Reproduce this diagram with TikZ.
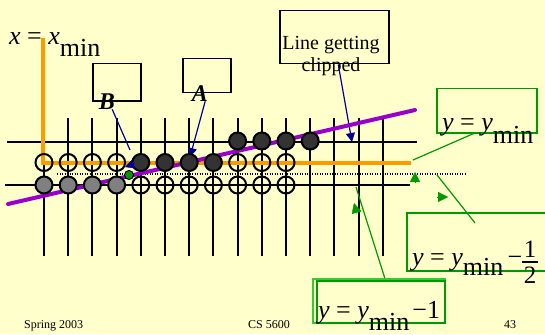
\documentclass[tikz,border=0pt]{standalone}
\usepackage{fontspec}
\setmainfont{Liberation Serif}
\usetikzlibrary{arrows.meta,positioning}
\definecolor{slideyellow}{RGB}{255,255,204}
\definecolor{clipblue}{RGB}{0,0,153}
\definecolor{edgeorange}{RGB}{255,153,0}
\definecolor{linepurple}{RGB}{153,0,204}
\definecolor{markgreen}{RGB}{0,153,0}
\definecolor{lightgreen}{RGB}{51,204,51}
\definecolor{pixdark}{RGB}{51,51,51}
\definecolor{pixgray}{RGB}{128,128,128}

\begin{document}
\begin{tikzpicture}[
    x=1pt,y=-1pt,
    gridline/.style={line width=2pt},
    pix/.style={circle,draw,line width=2pt,minimum size=17pt,inner sep=0pt},
    offpix/.style={pix},
    onpix/.style={pix,fill=pixdark},
    lowpix/.style={pix,fill=pixgray},
    labelbox/.style={draw,line width=1.5pt,inner sep=0pt,anchor=north west},
    gbox/.style={draw=markgreen,line width=1.5pt,inner sep=0pt,anchor=north west},
    eq/.style={font=\fontsize{26}{28}\selectfont,inner sep=0pt,anchor=base west},
    digit/.style={font=\fontsize{25}{27}\selectfont,inner sep=0pt,anchor=base},
    bpointer/.style={draw=clipblue,line width=1.2pt},
    gpointer/.style={draw=markgreen,line width=1.2pt},
    btip/.style={-{Triangle[length=9pt,width=9pt]},clipblue,line width=0.4pt},
    gtip/.style={-{Triangle[length=10pt,width=10pt]},markgreen,line width=0.4pt}
]
\useasboundingbox[fill=slideyellow] (0,0) rectangle (545,334);

% label boxes
\node[labelbox,minimum width=48pt,minimum height=37pt] (bbox) at (92,63) {};
\node[labelbox,minimum width=48pt,minimum height=34pt] (abox) at (182,58) {};
\node[labelbox,minimum width=109pt,minimum height=53pt] (clipbox) at (279,10) {};
\node[font=\fontsize{20}{22}\selectfont,align=center,inner sep=0pt,anchor=north] (cliptxt) at (331,36.3) {Line getting\\clipped};

% pointer that passes under the line
\coordinate (clipend) at (352,142);
\draw[bpointer,-{Triangle[length=9pt,width=9pt]}] ([xshift=4pt]clipbox.south) -- (clipend);

% pixel grid
\foreach \i in {0,...,14}
    \draw[gridline] ({44+24.2*\i},118) -- ({44+24.2*\i},256);
\coordinate (rowa) at (7,142);
\coordinate (rowb) at (5,185);
\draw[gridline] (rowa) -- (417,142);
\draw[gridline] (rowb) -- (410,185);
\draw[line width=2.4pt,dash pattern=on 1.4pt off 1.1pt] (57,174) -- (465,174);

% clip edges and the line
\draw[edgeorange,line width=4pt] (43,38) -- (43,163) -- (411,163);
\coordinate (lstart) at (8,204);
\coordinate (lend) at (415,110);
\draw[linepurple,line width=4pt,line cap=round] (lstart) -- (lend);

% B and A pointers
\node[font=\fontsize{24}{26}\selectfont\bfseries\itshape,inner sep=0pt,anchor=base] (btxt) at (107,109) {B};
\node[font=\fontsize{24}{26}\selectfont\bfseries\itshape,inner sep=0pt,anchor=base] (atxt) at (200,101) {A};
\coordinate (bend) at (130,150);
\draw[bpointer] ([xshift=-3pt]btxt.south east) -- (bend);
\coordinate (aend) at (190,157);
\draw[bpointer,-{Triangle[length=9pt,width=9pt]}] ([xshift=-3pt]atxt.south east) -- (aend);

% pixels
\foreach \i in {8,...,11}
    \node[onpix] (top\i) at ({44+24.2*\i},141) {};
\foreach \i in {0,...,3}
    \node[offpix] (mid\i) at ({44+24.2*\i},162.5) {};
\foreach \i in {4,...,7}
    \node[onpix] (mid\i) at ({44+24.2*\i},162.5) {};
\foreach \i in {8,...,10}
    \node[offpix] (mid\i) at ({44+24.2*\i},162.5) {};
\foreach \i in {0,...,3}
    \node[lowpix] (low\i) at ({44+24.2*\i},185) {};
\foreach \i in {4,...,10}
    \node[offpix] (low\i) at ({44+24.2*\i},185) {};
\node[circle,draw,fill=markgreen,line width=1pt,minimum size=9pt,inner sep=0pt] (hit) at (129,175) {};
\coordinate (btipbase) at (134,164);
\coordinate (btipend) at (125,167);
\draw[btip] (btipbase) -- (btipend);

% equations
\node[eq] (xmineq) at (9,45) {{\itshape x} = {\itshape x}\raisebox{-12pt}{min}};
\node[gbox,minimum width=100pt,minimum height=44pt] (yminbox) at (436,88) {};
\node[eq] (ymineq) at (442,130) {{\itshape y} = {\itshape y}\raisebox{-13pt}{min}};
\node[gbox,minimum width=154pt,minimum height=58pt] (halfbox) at (406,212) {};
\node[eq] (halfeq) at (412,265) {{\itshape y} = {\itshape y}\raisebox{-10pt}{min}\,−};
\node[digit] (halfnum) at (530,257) {1};
\node[digit] (halfden) at (530,283) {2};
\draw[line width=1.3pt] ([xshift=-8pt,yshift=-5pt]halfnum.base) -- ([xshift=8pt,yshift=-5pt]halfnum.base);
\node[draw=lightgreen,line width=1.5pt,inner sep=0pt,anchor=north west,minimum width=132pt,minimum height=44pt] (oneouter) at (312,278) {};
\node[gbox,minimum width=128pt,minimum height=42pt] (onebox) at (316,280) {};
\node[eq] (oneeq) at (318,318) {{\itshape y} = {\itshape y}\raisebox{-12pt}{min}\hspace{3pt}−1};

% green pointers
\coordinate (g1end) at (413,160);
\draw[gpointer] ([xshift=-13pt]yminbox.south) -- (g1end);
\coordinate (g1base) at (415,183);
\coordinate (g1tip) at (415,172);
\draw[gtip] (g1base) -- (g1tip);
\coordinate (g2start) at (475,223);
\coordinate (g2end) at (437,175);
\draw[gpointer] (g2start) -- (g2end);
\coordinate (g2base) at (437,197);
\coordinate (g2tip) at (448,197);
\draw[gtip] (g2base) -- (g2tip);
\coordinate (g3end) at (356,187);
\draw[gpointer] ([xshift=6pt]oneouter.north) -- (g3end);
\coordinate (g3base) at (357,214);
\coordinate (g3tip) at (354,203);
\draw[gtip] (g3base) -- (g3tip);

% footer
\node[font=\fontsize{12}{14}\selectfont,inner sep=0pt,anchor=base west] (season) at (24,328) {Spring 2003};
\node[font=\fontsize{12}{14}\selectfont,inner sep=0pt,anchor=base west] (course) at (248,328) {CS 5600};
\node[font=\fontsize{12}{14}\selectfont,inner sep=0pt,anchor=base west] (page) at (504,328) {43};
\end{tikzpicture}
\end{document}
